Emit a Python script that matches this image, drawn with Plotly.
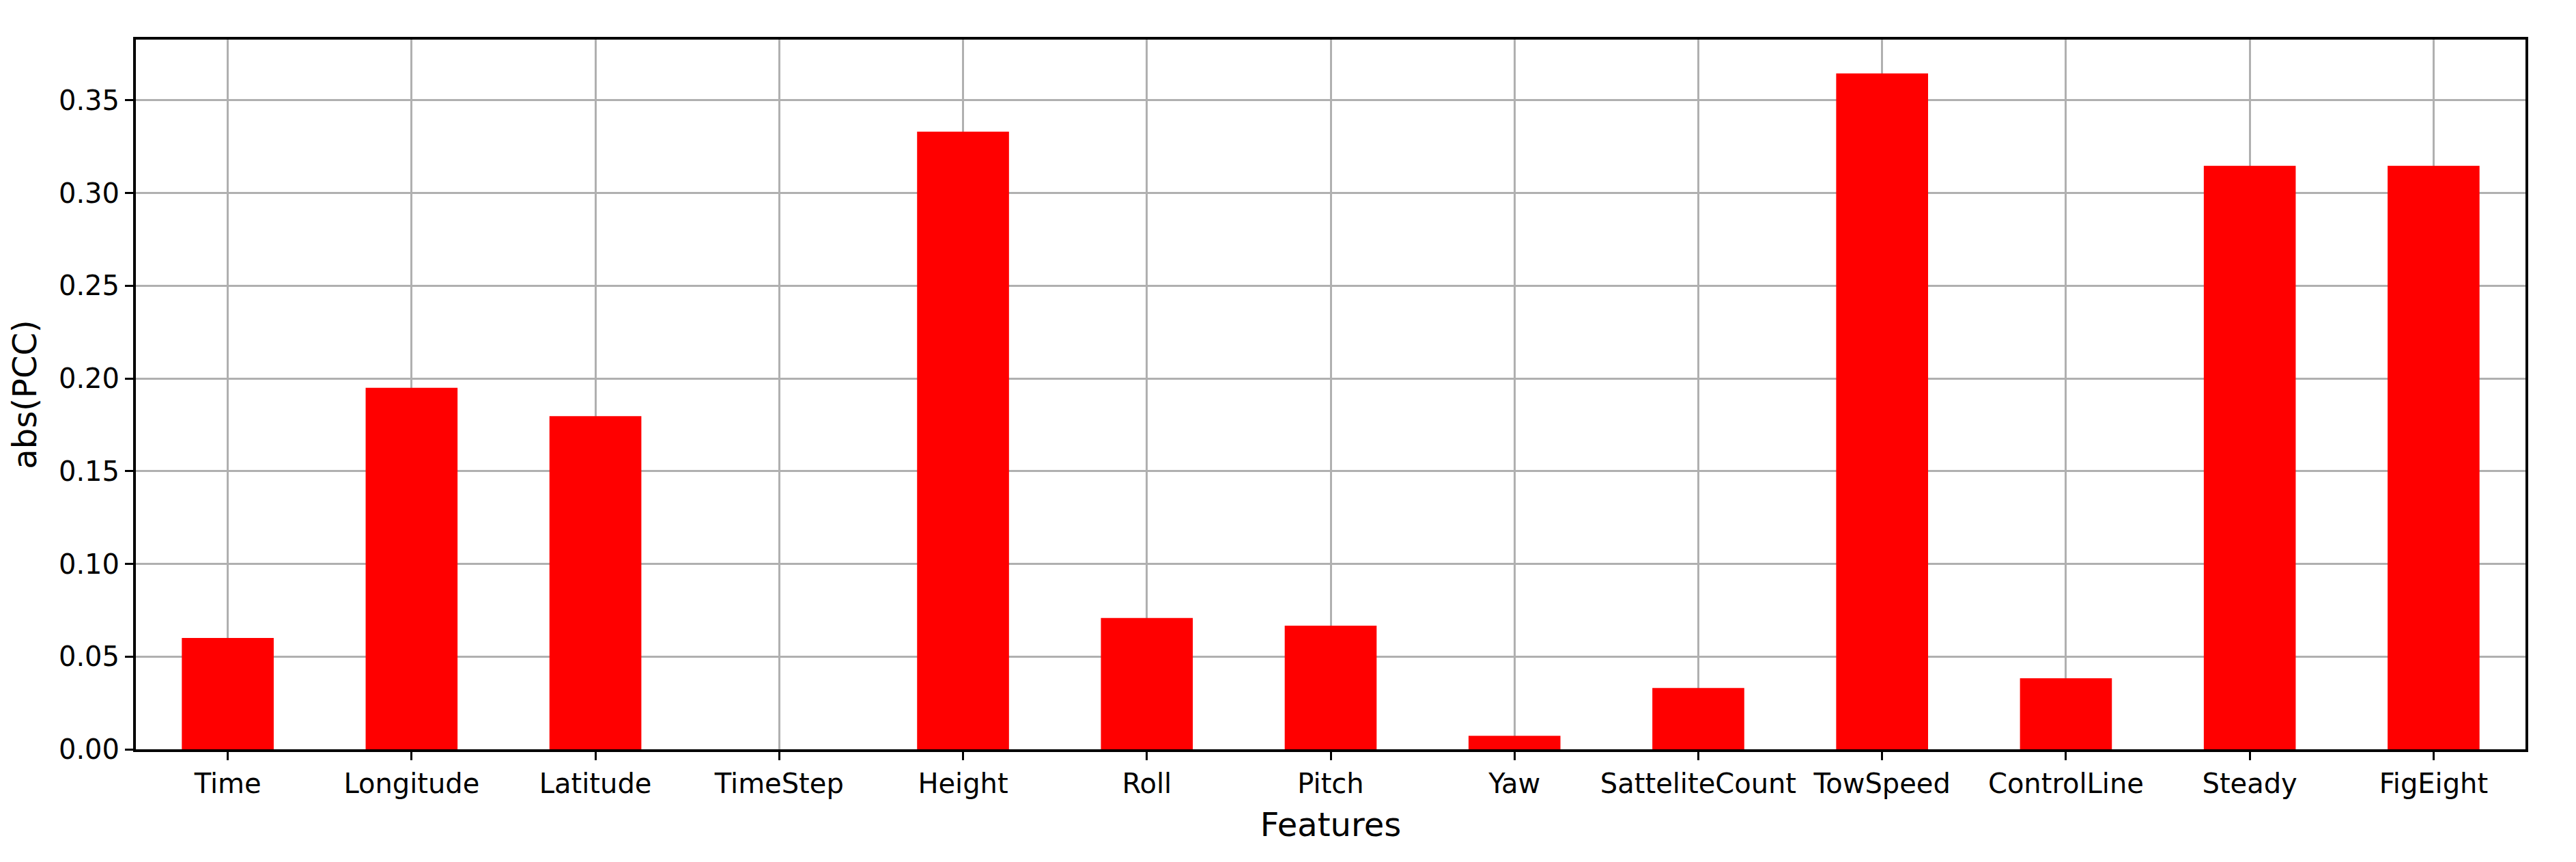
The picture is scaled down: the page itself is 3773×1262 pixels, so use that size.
"""
Absolute Pearson correlation of each feature, as a bar chart.
"""

import plotly.graph_objects as go

features = [
    "Time", "Longitude", "Latitude", "TimeStep", "Height", "Roll", "Pitch",
    "Yaw", "SatteliteCount", "TowSpeed", "ControlLine", "Steady", "FigEight",
]
abs_pcc = [
    0.0600, 0.1950, 0.1797, 0.0, 0.3331, 0.0708, 0.0667,
    0.0073, 0.0331, 0.3645, 0.0383, 0.3147, 0.3147,
]
y_ticks = [0.00, 0.05, 0.10, 0.15, 0.20, 0.25, 0.30, 0.35]

FONT = "DejaVu Sans"

fig = go.Figure()

fig.add_trace(
    go.Bar(
        x=features,
        y=abs_pcc,
        width=0.5,
        marker=dict(color="#ff0000", line=dict(width=0)),
        showlegend=False,
    )
)

axis_common = dict(
    showline=True,
    linecolor="black",
    linewidth=4,
    mirror=True,
    ticks="outside",
    ticklen=12,
    tickwidth=3,
    tickcolor="black",
    showgrid=True,
    gridcolor="#b0b0b0",
    gridwidth=3,
    zeroline=False,
    automargin=False,
    layer="above traces",
    tickfont=dict(family=FONT, size=40, color="black"),
)

fig.update_xaxes(
    **axis_common,
    range=[-0.5, len(features) - 0.5],
    title=dict(text="Features", font=dict(family=FONT, size=48, color="black"), standoff=22),
)

fig.update_yaxes(
    **axis_common,
    range=[0, max(abs_pcc) * 1.05],
    tickvals=y_ticks,
    tickformat=".2f",
    title=dict(text="abs(PCC)", font=dict(family=FONT, size=48, color="black"), standoff=18),
)

# page body has an 8px margin, so the figure is 16px smaller than the window
fig.update_layout(
    width=3757,
    height=1246,
    margin=dict(l=191, r=66, t=50, b=157),
    plot_bgcolor="white",
    paper_bgcolor="white",
    bargap=0.5,
    font=dict(family=FONT, color="black"),
)

fig.write_html("out.html")
